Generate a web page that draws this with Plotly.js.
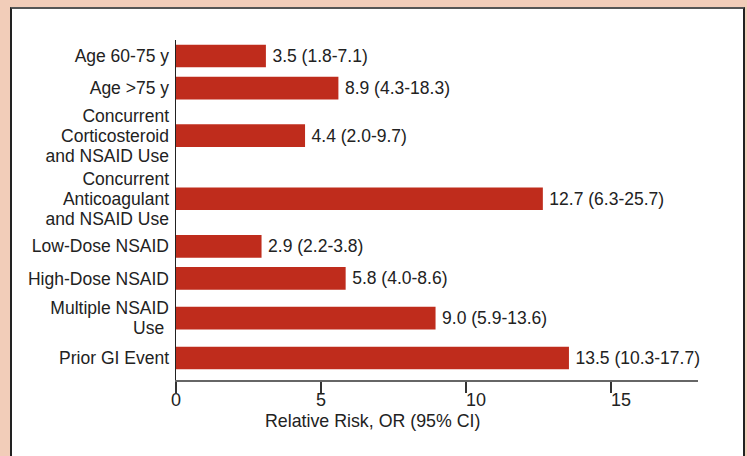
<!DOCTYPE html>
<html><head><meta charset="utf-8">
<script src="https://cdn.plot.ly/plotly-3.0.1.min.js"></script>
<style>
html,body{margin:0;padding:0;background:#f2cdb9;width:747px;height:456px;overflow:hidden}
#frame{position:absolute;left:10px;top:7px;width:735px;height:470px;background:#fff;border:2px solid #222;border-top-color:#555;box-sizing:border-box}
#chart{position:absolute;left:0;top:0;width:747px;height:456px}
</style></head><body>
<div id="frame"></div><div id="chart"></div>
<script>
const categories = [
  "Age 60-75 y",
  "Age >75 y",
  "Concurrent<br>Corticosteroid<br>and NSAID Use",
  "Concurrent<br>Anticoagulant<br>and NSAID Use",
  "Low-Dose NSAID",
  "High-Dose NSAID",
  "Multiple NSAID<br>Use\u00a0",
  "Prior GI Event"
];
// bar lengths as drawn in the picture
const barValues = [3.1, 5.6, 4.45, 12.65, 2.95, 5.85, 8.95, 13.55];
const riskLabels = [
  "3.5 (1.8-7.1)",
  "8.9 (4.3-18.3)",
  "4.4 (2.0-9.7)",
  "12.7 (6.3-25.7)",
  "2.9 (2.2-3.8)",
  "5.8 (4.0-8.6)",
  "9.0 (5.9-13.6)",
  "13.5 (10.3-17.7)"
];
const xTickValues = [0, 5, 10, 15];
const xTickLabels = ["0", "5", "\u2007\u200710", "\u2007\u200715"];
const axisTitle = "Relative Risk, OR (95% CI)";

const FONT = "'Liberation Sans', Arial, Helvetica, sans-serif";
const GAP = 1.06, LINE_STEP = 1.286;
const lineCounts = categories.map(c => c.split("<br>").length);
const rowPos = [];
let p = 0;
lineCounts.forEach((n, i) => {
  if (i > 0) p += (lineCounts[i - 1] + n) / 2 + GAP;
  rowPos.push(-p);
});
const tickVals = [], tickText = [];
categories.forEach((c, i) => {
  const lines = c.split("<br>");
  const n = lines.length;
  lines.forEach((ln, j) => {
    tickVals.push(rowPos[i] - (j - (n - 1) / 2) * LINE_STEP);
    tickText.push(ln);
  });
});

const trace = {
  type: "bar",
  orientation: "h",
  x: barValues,
  y: rowPos,
  width: 1.46,
  text: riskLabels,
  texttemplate: "\u2009%{text}",
  textposition: "outside",
  constraintext: "none",
  cliponaxis: false,
  textfont: {family: FONT, size: 17.5, color: "#222"},
  marker: {color: "#bf2c1c", line: {width: 0}},
  hoverinfo: "none"
};

const layout = {
  width: 747, height: 456,
  margin: {l: 176, r: 49, t: 40, b: 76, pad: 0},
  paper_bgcolor: "rgba(0,0,0,0)",
  plot_bgcolor: "rgba(0,0,0,0)",
  showlegend: false,
  font: {family: FONT, color: "#222"},
  xaxis: {
    range: [0, 18],
    tickvals: xTickValues,
    ticktext: xTickLabels,
    ticks: "outside", ticklen: 11, tickwidth: 1.5, tickcolor: "#333",
    ticklabelstandoff: -9,
    tickfont: {family: FONT, size: 18, color: "#222"},
    showline: true, linecolor: "#666", linewidth: 2,
    showgrid: false, zeroline: false, fixedrange: true
  },
  yaxis: {
    range: [rowPos[rowPos.length - 1] - 1.415, 1.03],
    tickvals: tickVals,
    ticktext: tickText,
    ticks: "",
    ticklabelstandoff: 2,
    tickfont: {family: FONT, size: 17.5, color: "#222"},
    showline: true, linecolor: "#222", linewidth: 1.5,
    showgrid: false, zeroline: false, fixedrange: true
  },
  annotations: [{
    text: axisTitle, xref: "paper", yref: "paper",
    x: 0.3755, y: -0.12, xanchor: "center", yanchor: "middle",
    showarrow: false, font: {family: FONT, size: 17.8, color: "#222"}
  }]
};

Plotly.newPlot("chart", [trace], layout, {displayModeBar: false, staticPlot: true});
</script>
</body></html>
